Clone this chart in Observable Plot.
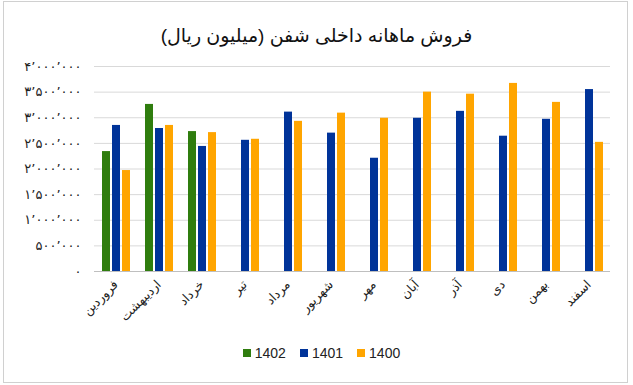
<!DOCTYPE html>
<html>
<head>
<meta charset="utf-8">
<script src="https://cdn.jsdelivr.net/npm/d3@7"></script>
<script src="https://cdn.jsdelivr.net/npm/@observablehq/plot@0.6"></script>
<style>
  html, body { margin: 0; padding: 0; background: #fff; }
  #wrap { position: relative; width: 633px; height: 385px; overflow: hidden; font-family: "Liberation Sans", "DejaVu Sans", sans-serif; }
  #frame { position: absolute; left: 3px; top: 1px; width: 623px; height: 380px; border: 1px solid #d0d0d0; }
  #title { position: absolute; left: 0; top: 24px; width: 633px; text-align: center; font-size: 19px; color: #111; direction: rtl; }
  #chart { position: absolute; left: 0; top: 50px; }
  #legend { position: absolute; left: 0; top: 345px; width: 633px; display: flex; justify-content: center; gap: 14px; font-size: 14px; color: #222; padding-left: 10px; box-sizing: border-box; }
  .li { display: flex; align-items: center; gap: 4px; }
  .sw { width: 8px; height: 8px; display: inline-block; }
</style>
</head>
<body>
<div id="wrap">
  <div id="frame"></div>
  <div id="title">فروش ماهانه داخلی شفن (میلیون ریال)</div>
  <div id="chart"></div>
  <div id="legend"></div>
</div>
<script>
const months = ["فروردین","اردیبهشت","خرداد","تیر","مرداد","شهریور","مهر","آبان","آذر","دی","بهمن","اسفند"];
const years = ["1402","1401","1400"];
const colors = ["#2f7d0e","#003399","#ffa500"];
const v1402 = [2340000, 3260000, 2730000, null, null, null, null, null, null, null, null, null];
const v1401 = [2850000, 2790000, 2440000, 2560000, 3110000, 2700000, 2210000, 2990000, 3125000, 2640000, 2970000, 3550000];
const v1400 = [1970000, 2850000, 2710000, 2580000, 2930000, 3090000, 2990000, 3500000, 3460000, 3670000, 3300000, 2520000];
const yTicks = [0, 500000, 1000000, 1500000, 2000000, 2500000, 3000000, 3500000, 4000000];

const series = {"1402": v1402, "1401": v1401, "1400": v1400};
const data = [];
months.forEach((m, i) => {
  years.forEach(y => {
    const v = series[y][i];
    if (v != null) data.push({month: m, year: y, value: v});
  });
});

const faDigits = "۰۱۲۳۴۵۶۷۸۹";
const fa = n => d3.format(",")(n).replace(/,/g, "٬").replace(/\d/g, d => faDigits[+d]);

const chart = Plot.plot({
  width: 633,
  height: 285,
  marginTop: 16,
  marginBottom: 64,
  marginLeft: 93,
  marginRight: 23,
  style: {fontFamily: "'Liberation Sans', 'DejaVu Sans', sans-serif", fontSize: "11px", color: "#222", background: "transparent"},
  fx: {domain: months, padding: 0, axis: "bottom", label: null, tickRotate: -45, tickSize: 0, tickPadding: 11},
  x: {domain: years, paddingInner: 0.2, paddingOuter: 0.75, axis: null},
  y: {domain: [0, 4000000], ticks: yTicks, tickFormat: fa, tickSize: 0, tickPadding: 13, label: null},
  color: {domain: years, range: colors},
  marks: [
    Plot.gridY(yTicks, {stroke: "#d9d9d9", strokeOpacity: 1}),
    Plot.barY(data, {fx: "month", x: "year", y: "value", fill: "year"}),
    Plot.ruleY([0], {stroke: "#bfbfbf"})
  ]
});
d3.select(chart).selectAll("g[aria-label='fx-axis tick label'] text").style("font-size", "12.5px");
d3.select(chart).selectAll("g[aria-label='y-axis tick label'] text").style("font-size", "13px");
document.getElementById("chart").appendChild(chart);

const legend = document.getElementById("legend");
years.forEach((y, i) => {
  const d = document.createElement("div");
  d.className = "li";
  d.innerHTML = `<span class="sw" style="background:${colors[i]}"></span><span>${y}</span>`;
  legend.appendChild(d);
});
</script>
</body>
</html>
